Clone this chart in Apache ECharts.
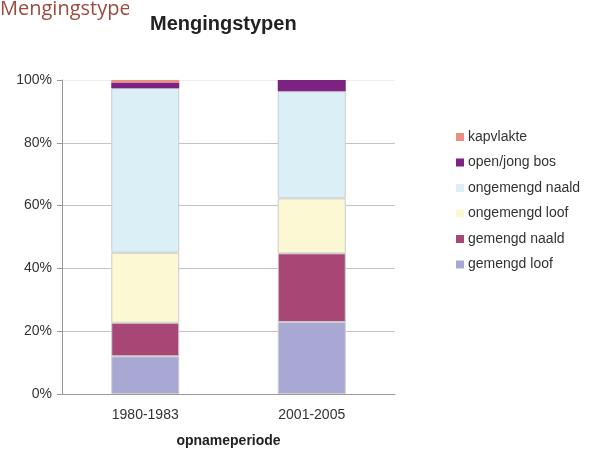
<!DOCTYPE html>
<html>
<head>
<meta charset="utf-8">
<script src="https://cdn.jsdelivr.net/npm/echarts@6/dist/echarts.min.js"></script>
<style>
  html, body { margin: 0; padding: 0; background: #fff; }
  #chart { width: 599px; height: 453px; }
</style>
</head>
<body>
<div id="chart"></div>
<script>
// periods on the x axis
const periods = ['1980-1983', '2001-2005']

// shares per mixing type (%), bottom of the stack first
const gemengdLoof = [12.0, 22.9]
const gemengdNaald = [10.7, 21.9]
const ongemengdLoof = [22.3, 17.5]
const ongemengdNaald = [52.4, 34.1]
const openJongBos = [1.8, 3.6]
const kapvlakte = [0.8, 0]

const seriesNames = ['gemengd loof', 'gemengd naald', 'ongemengd loof', 'ongemengd naald', 'open/jong bos', 'kapvlakte']
const seriesData = [gemengdLoof, gemengdNaald, ongemengdLoof, ongemengdNaald, openJongBos, kapvlakte]
const seriesColors = ['#a9a8d4', '#a84675', '#fbf8d3', '#dbeff6', '#7b2283', '#ea8f84']

const chart = echarts.init(document.getElementById('chart'))

const font = '"Liberation Sans", Arial, sans-serif'

chart.setOption({
  animation: false,
  backgroundColor: '#fff',
  title: {
    text: 'Mengingstypen',
    left: 145,
    top: 9,
    textStyle: {fontFamily: font, fontSize: 20, fontWeight: 'bold', color: '#222'}
  },
  graphic: [
    {
      type: 'text',
      left: 0,
      top: -1,
      z: 10,
      style: {text: 'Mengingstype', fontFamily: '"Open Sans", sans-serif', fontSize: 20, fill: '#9a4b3d'}
    },
    {
      type: 'rect',
      left: 129,
      top: 0,
      z: 11,
      shape: {width: 14, height: 28},
      style: {fill: '#fff'}
    }
  ],
  legend: {
    orient: 'vertical',
    left: 451,
    top: 124,
    itemWidth: 8,
    itemHeight: 8,
    itemGap: 9.5,
    icon: 'rect',
    itemStyle: {borderWidth: 0},
    data: seriesNames.slice().reverse(),
    textStyle: {fontFamily: font, fontSize: 14, color: '#333', lineHeight: 16, padding: [0, 0, 0, -1]}
  },
  grid: {left: 62, right: 204, top: 80, bottom: 53},
  xAxis: {
    type: 'category',
    data: periods,
    name: 'opnameperiode',
    nameLocation: 'middle',
    nameGap: 40,
    nameTextStyle: {fontFamily: font, fontSize: 14, fontWeight: 'bold', color: '#222'},
    axisLine: {lineStyle: {color: '#999'}},
    axisTick: {length: 4, lineStyle: {color: '#999'}},
    axisLabel: {margin: 14, fontFamily: font, fontSize: 14, color: '#333'}
  },
  yAxis: {
    type: 'value',
    min: 0,
    max: 100,
    interval: 20,
    axisLine: {show: true, lineStyle: {color: '#999'}},
    axisTick: {show: true, length: 5, lineStyle: {color: '#999'}},
    axisLabel: {formatter: '{value}%', margin: 10, fontFamily: font, fontSize: 14, color: '#333'},
    splitLine: {lineStyle: {color: ['#c4c4c4', '#c4c4c4', '#c4c4c4', '#c4c4c4', '#c4c4c4', '#eeeeee']}}
  },
  series: seriesNames.map((name, i) => ({
    type: 'bar',
    name: name,
    stack: 'total',
    barWidth: 68,
    data: seriesData[i],
    itemStyle: {color: seriesColors[i], borderColor: '#cccccc', borderWidth: i >= 4 ? 0 : 1}
  }))
})
</script>
</body>
</html>
